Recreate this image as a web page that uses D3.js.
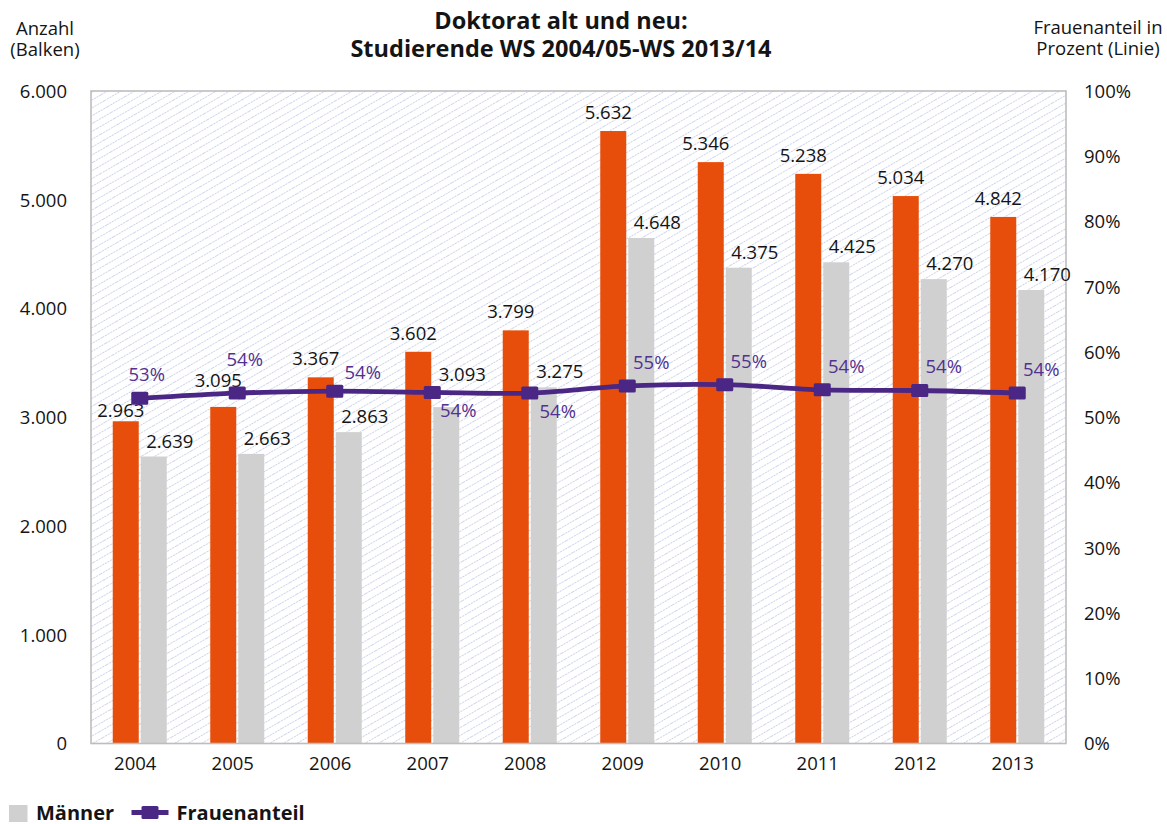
<!DOCTYPE html>
<html lang="de">
<head>
<meta charset="utf-8">
<title>Doktorat alt und neu</title>
<script src="https://cdn.jsdelivr.net/npm/d3@7"></script>
<style>
  html, body { margin: 0; padding: 0; background: #ffffff; }
  svg { display: block; font-family: "Open Sans", "Noto Sans", sans-serif; }
</style>
</head>
<body>
<svg id="chart" width="1167" height="824"></svg>
<script>
// Studienjahre (Wintersemester)
const years = ["2004", "2005", "2006", "2007", "2008", "2009", "2010", "2011", "2012", "2013"];
// Studierende Frauen (orange Balken)
const frauen = [2963, 3095, 3367, 3602, 3799, 5632, 5346, 5238, 5034, 4842];
// Studierende Männer (graue Balken)
const maenner = [2639, 2663, 2863, 3093, 3275, 4648, 4375, 4425, 4270, 4170];
// Frauenanteil in Prozent (Linie)
const frauenanteil = [52.9, 53.7, 54.0, 53.8, 53.7, 54.8, 55.0, 54.2, 54.1, 53.7];
// Achsenbeschriftungen
const countTicks = [0, 1000, 2000, 3000, 4000, 5000, 6000];
const percentTicks = [0, 10, 20, 30, 40, 50, 60, 70, 80, 90, 100];

// Label placement tweaks where labels would collide with the line
const labelNudge = {
  frauen:  { "2004": 8, "2005": -8 },
  maenner: { "2007": -17 },
  anteil:  {
    "2004": [-17, 0], "2005": [-16.5, -10], "2006": [4, 5],
    "2007": [2, 42], "2008": [4, 42]
  }
};

const plot = { left: 91, right: 1066, top: 91, bottom: 743.5 };
const COLORS = {
  frauen: "#e84e0b",
  maenner: "#d0d0d0",
  line: "#4a2685",
  lineText: "#52318f",
  text: "#141414",
  border: "#bdbdbd",
  hatch: "#c9d1ea"
};

const de = d3.formatLocale({ decimal: ",", thousands: ".", grouping: [3], currency: ["", " €"] });
const fmtCount = de.format(",d");
const fmtPct = d => d3.format(".0f")(d) + "%";

const svg = d3.select("#chart");

// hatched plot background
const defs = svg.append("defs");
const pat = defs.append("pattern")
  .attr("id", "hatch")
  .attr("patternUnits", "userSpaceOnUse")
  .attr("width", 20).attr("height", 6.8)
  .attr("patternTransform", "rotate(-30)");
pat.append("line")
  .attr("x1", 0).attr("y1", 3.4).attr("x2", 20).attr("y2", 3.4)
  .attr("stroke", COLORS.hatch).attr("stroke-width", 0.9)
  .attr("stroke-dasharray", "2.2 0.8");

const x = d3.scaleBand().domain(years).range([plot.left, plot.right]).paddingInner(0).paddingOuter(0);
const yCount = d3.scaleLinear().domain([0, 6000]).range([plot.bottom, plot.top]);
const yPct = d3.scaleLinear().domain([0, 100]).range([plot.bottom, plot.top]);

svg.append("rect")
  .attr("x", plot.left).attr("y", plot.top)
  .attr("width", plot.right - plot.left).attr("height", plot.bottom - plot.top)
  .attr("fill", "url(#hatch)");

const barW = 26, barGap = 1;
const center = yr => x(yr) + x.bandwidth() / 2;

const rows = years.map((yr, i) => ({ yr, f: frauen[i], m: maenner[i], p: frauenanteil[i] }));

// bars
const gBars = svg.append("g");
gBars.selectAll("rect.f").data(rows).join("rect")
  .attr("class", "f")
  .attr("x", d => center(d.yr) - barGap - barW)
  .attr("y", d => yCount(d.f))
  .attr("width", barW)
  .attr("height", d => yCount(0) - yCount(d.f))
  .attr("fill", COLORS.frauen);
gBars.selectAll("rect.m").data(rows).join("rect")
  .attr("class", "m")
  .attr("x", d => center(d.yr) + barGap)
  .attr("y", d => yCount(d.m))
  .attr("width", barW)
  .attr("height", d => yCount(0) - yCount(d.m))
  .attr("fill", COLORS.maenner);

// plot frame
svg.append("rect")
  .attr("x", plot.left).attr("y", plot.top)
  .attr("width", plot.right - plot.left).attr("height", plot.bottom - plot.top)
  .attr("fill", "none").attr("stroke", COLORS.border).attr("stroke-width", 1.6);

// value labels on bars
const gLab = svg.append("g").attr("font-size", 18.5).attr("fill", COLORS.text);
gLab.selectAll("text.f").data(rows).join("text")
  .attr("class", "f")
  .attr("text-anchor", "middle")
  .attr("x", d => center(d.yr) - barGap - barW / 2 - 5)
  .attr("y", d => yCount(d.f) - 12 + (labelNudge.frauen[d.yr] || 0))
  .text(d => fmtCount(d.f));
gLab.selectAll("text.m").data(rows).join("text")
  .attr("class", "m")
  .attr("text-anchor", "middle")
  .attr("x", d => center(d.yr) + barGap + barW / 2 + 16)
  .attr("y", d => yCount(d.m) - 9 + (labelNudge.maenner[d.yr] || 0))
  .text(d => fmtCount(d.m));

// share line
const line = d3.line()
  .x(d => center(d.yr))
  .y(d => yPct(d.p))
  .curve(d3.curveCatmullRom.alpha(0.5));
svg.append("path")
  .datum(rows)
  .attr("d", line)
  .attr("fill", "none")
  .attr("stroke", COLORS.line)
  .attr("stroke-width", 4.8)
  .attr("stroke-linejoin", "round");
svg.append("g").selectAll("rect").data(rows).join("rect")
  .attr("x", d => center(d.yr) - 8.5)
  .attr("y", d => yPct(d.p) - 6.5)
  .attr("width", 17).attr("height", 13)
  .attr("rx", 1.5)
  .attr("fill", COLORS.line);

svg.append("g").attr("font-size", 18.5).attr("fill", COLORS.lineText)
  .selectAll("text").data(rows).join("text")
  .attr("text-anchor", "middle")
  .attr("x", d => center(d.yr) + 24 + ((labelNudge.anteil[d.yr] || [0, 0])[0]))
  .attr("y", d => yPct(d.p) - 17 + ((labelNudge.anteil[d.yr] || [0, 0])[1]))
  .text(d => fmtPct(d.p));

// left axis (Anzahl)
const axL = svg.append("g")
  .attr("transform", `translate(${plot.left - 24},0)`)
  .call(d3.axisLeft(yCount).tickValues(countTicks).tickSize(0).tickPadding(0).tickFormat(fmtCount));
axL.select(".domain").remove();
axL.selectAll("text").attr("font-size", 18.5).attr("fill", COLORS.text)
  .attr("font-family", "'Open Sans', sans-serif").attr("dy", "0.35em");

// right axis (Prozent)
const axR = svg.append("g")
  .attr("transform", `translate(${plot.right + 18},0)`)
  .call(d3.axisRight(yPct).tickValues(percentTicks).tickSize(0).tickPadding(0).tickFormat(d => d + "%"));
axR.select(".domain").remove();
axR.selectAll("text").attr("font-size", 18.5).attr("fill", COLORS.text)
  .attr("font-family", "'Open Sans', sans-serif").attr("dy", "0.35em");

// bottom axis (Jahre)
const axB = svg.append("g")
  .attr("transform", `translate(-4.5,${plot.bottom})`)
  .call(d3.axisBottom(x).tickSize(0).tickPadding(0));
axB.select(".domain").remove();
axB.selectAll("text").attr("font-size", 18.5).attr("fill", COLORS.text)
  .attr("font-family", "'Open Sans', sans-serif").attr("dy", 0).attr("y", 26.5);

// titles
const title = svg.append("text").attr("text-anchor", "middle").attr("font-weight", "bold")
  .attr("font-size", 23.5).attr("fill", COLORS.text);
title.append("tspan").attr("x", 561).attr("y", 29).text("Doktorat alt und neu:");
title.append("tspan").attr("x", 561).attr("y", 57).text("Studierende WS 2004/05-WS 2013/14");

const tl = svg.append("text").attr("text-anchor", "middle").attr("font-size", 18.5).attr("fill", COLORS.text);
tl.append("tspan").attr("x", 45).attr("y", 35).text("Anzahl");
tl.append("tspan").attr("x", 45).attr("y", 56).text("(Balken)");

const tr = svg.append("text").attr("text-anchor", "middle").attr("font-size", 18.5).attr("fill", COLORS.text);
tr.append("tspan").attr("x", 1098).attr("y", 34).text("Frauenanteil in");
tr.append("tspan").attr("x", 1098).attr("y", 55).text("Prozent (Linie)");

// legend
const lg = svg.append("g").attr("font-size", 20).attr("font-weight", "bold").attr("fill", COLORS.text);
lg.append("rect").attr("x", 9).attr("y", 805).attr("width", 18.5).attr("height", 17).attr("fill", COLORS.maenner);
lg.append("text").attr("x", 36).attr("y", 820).text("Männer");
lg.append("line").attr("x1", 131.5).attr("x2", 168.5).attr("y1", 812.5).attr("y2", 812.5)
  .attr("stroke", COLORS.line).attr("stroke-width", 4.8);
lg.append("rect").attr("x", 141.5).attr("y", 806).attr("width", 17).attr("height", 13).attr("rx", 1.5)
  .attr("fill", COLORS.line);
lg.append("text").attr("x", 176.5).attr("y", 820).text("Frauenanteil");
</script>
</body>
</html>
